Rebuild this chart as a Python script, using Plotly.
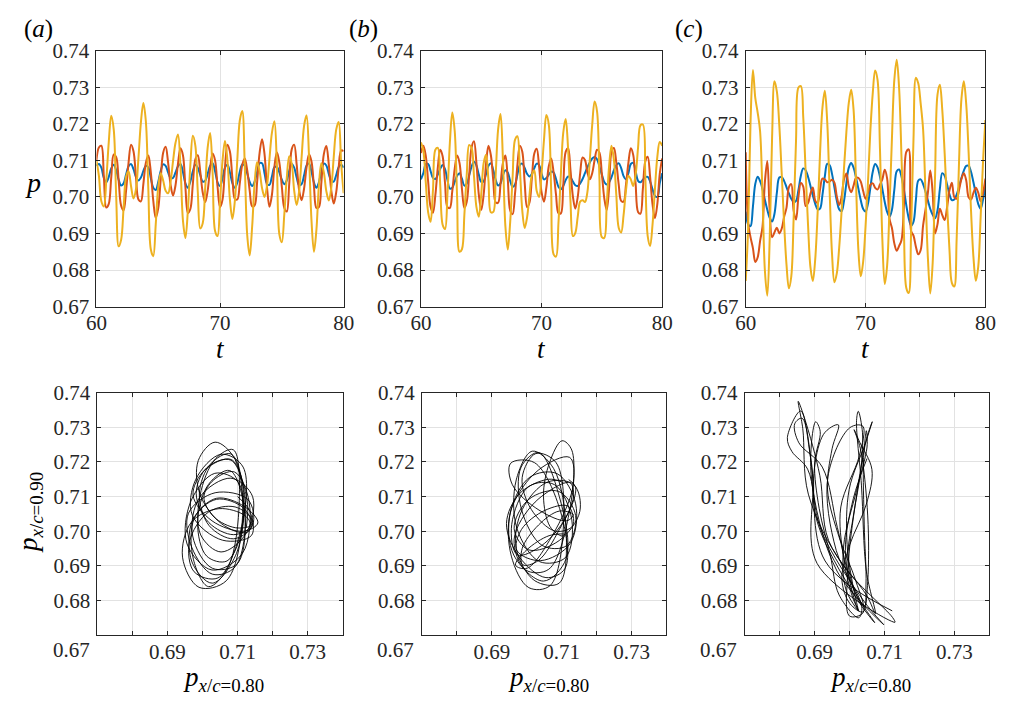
import plotly.graph_objects as go

# Sample times (t = 60 ... 80, step 0.2) shared by every series
T = [60.0, 60.2, 60.4, 60.6, 60.8, 61.0, 61.2, 61.4, 61.6, 61.8,
     62.0, 62.2, 62.4, 62.6, 62.8, 63.0, 63.2, 63.4, 63.6, 63.8,
     64.0, 64.2, 64.4, 64.6, 64.8, 65.0, 65.2, 65.4, 65.6, 65.8,
     66.0, 66.2, 66.4, 66.6, 66.8, 67.0, 67.2, 67.4, 67.6, 67.8,
     68.0, 68.2, 68.4, 68.6, 68.8, 69.0, 69.2, 69.4, 69.6, 69.8,
     70.0, 70.2, 70.4, 70.6, 70.8, 71.0, 71.2, 71.4, 71.6, 71.8,
     72.0, 72.2, 72.4, 72.6, 72.8, 73.0, 73.2, 73.4, 73.6, 73.8,
     74.0, 74.2, 74.4, 74.6, 74.8, 75.0, 75.2, 75.4, 75.6, 75.8,
     76.0, 76.2, 76.4, 76.6, 76.8, 77.0, 77.2, 77.4, 77.6, 77.8,
     78.0, 78.2, 78.4, 78.6, 78.8, 79.0, 79.2, 79.4, 79.6, 79.8,
     80.0]

# ---- case (a) ----
A_BLUE = [.7085, .7090, .7080, .7052, .7040, .7055, .7078, .7088, .7073, .7047,
          .7031, .7037, .7061, .7084, .7090, .7076, .7055, .7045, .7053, .7071,
          .7085, .7080, .7052, .7025, .7019, .7041, .7071, .7089, .7085, .7067,
          .7052, .7052, .7067, .7084, .7090, .7068, .7037, .7025, .7042, .7070,
          .7088, .7080, .7060, .7042, .7044, .7063, .7085, .7092, .7070, .7040,
          .7030, .7051, .7080, .7088, .7067, .7038, .7025, .7039, .7069, .7089,
          .7085, .7064, .7041, .7030, .7042, .7068, .7092, .7092, .7065, .7036,
          .7033, .7056, .7081, .7083, .7067, .7047, .7035, .7045, .7072, .7090,
          .7080, .7053, .7032, .7035, .7059, .7086, .7091, .7069, .7039, .7025,
          .7040, .7071, .7091, .7086, .7063, .7044, .7042, .7060, .7082, .7088,
          .7080]
A_ORANGE = [.7100, .7135, .7140, .7057, .6971, .6981, .7053, .7116, .7109, .7044,
            .6976, .6963, .7017, .7093, .7143, .7125, .7055, .6993, .6988, .7036,
            .7093, .7113, .7068, .6990, .6943, .6969, .7047, .7121, .7137, .7094,
            .7033, .7004, .7032, .7091, .7133, .7114, .7027, .6956, .6967, .7035,
            .7102, .7114, .7070, .7012, .6986, .7017, .7078, .7119, .7100, .7028,
            .6972, .6992, .7081, .7143, .7124, .7053, .6995, .6993, .7037, .7088,
            .7105, .7073, .7017, .6974, .6977, .7040, .7120, .7158, .7117, .7027,
            .6973, .7006, .7082, .7122, .7094, .7028, .6970, .6960, .7036, .7130,
            .7143, .7089, .7019, .6991, .7023, .7081, .7117, .7097, .7028, .6970,
            .6972, .7040, .7117, .7139, .7089, .7018, .6982, .7013, .7081, .7127,
            .7125]
A_YELLOW = [.7100, .7058, .6988, .6974, .7046, .7150, .7222, .7185, .7002, .6865,
            .6883, .6970, .7055, .7070, .7030, .6996, .7021, .7106, .7204, .7257,
            .7207, .7021, .6857, .6838, .6925, .7027, .7065, .7045, .7017, .7010,
            .7041, .7098, .7148, .7171, .7085, .6936, .6888, .6963, .7087, .7167,
            .7141, .7015, .6914, .6928, .7024, .7135, .7175, .7066, .6907, .6893,
            .6986, .7098, .7153, .7100, .6993, .6940, .6989, .7103, .7209, .7235,
            .7089, .6896, .6840, .6919, .7038, .7095, .7071, .7024, .7000, .7030,
            .7104, .7176, .7207, .7089, .6898, .6876, .6952, .7052, .7111, .7091,
            .7017, .6978, .7016, .7108, .7194, .7223, .7112, .6936, .6850, .6911,
            .7032, .7092, .7067, .7016, .6990, .7025, .7109, .7184, .7205, .7092,
            .7010]

# ---- case (b) ----
B_BLUE = [.7048, .7065, .7090, .7090, .7071, .7052, .7049, .7061, .7077, .7087,
          .7076, .7046, .7023, .7025, .7041, .7058, .7065, .7050, .7031, .7036,
          .7059, .7083, .7096, .7086, .7061, .7041, .7043, .7063, .7085, .7092,
          .7073, .7046, .7031, .7037, .7059, .7073, .7067, .7044, .7027, .7034,
          .7061, .7087, .7091, .7079, .7063, .7056, .7063, .7079, .7091, .7087,
          .7064, .7048, .7052, .7061, .7069, .7067, .7049, .7028, .7021, .7030,
          .7046, .7056, .7053, .7042, .7032, .7030, .7037, .7049, .7065, .7081,
          .7094, .7105, .7109, .7103, .7083, .7061, .7041, .7034, .7040, .7054,
          .7073, .7087, .7092, .7079, .7057, .7048, .7065, .7090, .7093, .7070,
          .7044, .7040, .7047, .7054, .7055, .7042, .7021, .7003, .7000, .7038,
          .7065]
B_ORANGE = [.7120, .7140, .7113, .7042, .6973, .6957, .7006, .7080, .7129, .7111,
            .7037, .6972, .6970, .7016, .7077, .7113, .7093, .7023, .6970, .6987,
            .7060, .7135, .7152, .7093, .7006, .6964, .7006, .7091, .7140, .7114,
            .7044, .6985, .6984, .7035, .7093, .7113, .7048, .6963, .6953, .7009,
            .7087, .7140, .7124, .7040, .6972, .6985, .7052, .7119, .7132, .7082,
            .7013, .6987, .7026, .7084, .7105, .7067, .7006, .6956, .6955, .7033,
            .7123, .7133, .7073, .7001, .6968, .7000, .7064, .7108, .7101, .7067,
            .7048, .7065, .7101, .7129, .7121, .7063, .6997, .6964, .7024, .7123,
            .7134, .7093, .7033, .6989, .6987, .7034, .7093, .7133, .7115, .7035,
            .6959, .6954, .7022, .7097, .7110, .7055, .6980, .6942, .6981, .7063,
            .7105]
B_YELLOW = [.7149, .7127, .7041, .6958, .6932, .7019, .7129, .7134, .7033, .6924,
            .6912, .7008, .7148, .7231, .7181, .7000, .6850, .6857, .6950, .7062,
            .7142, .7134, .7057, .6973, .6946, .7007, .7092, .7115, .7045, .6958,
            .6959, .7063, .7185, .7227, .7101, .6921, .6856, .6931, .7053, .7156,
            .7166, .7079, .6964, .6915, .6944, .7005, .7060, .7072, .7016, .7000,
            .7063, .7155, .7224, .7198, .7015, .6843, .6837, .6928, .7061, .7176,
            .7213, .7132, .6987, .6893, .6902, .6946, .6987, .6991, .6986, .7013,
            .7101, .7197, .7261, .7234, .7050, .6890, .6888, .6977, .7084, .7140,
            .7101, .7004, .6915, .6903, .6950, .7018, .7058, .7048, .7030, .7061,
            .7134, .7196, .7198, .7056, .6893, .6866, .6924, .7022, .7110, .7150,
            .7140]

# ---- case (c) ----
C_BLUE = [.6960, .6925, .6920, .6973, .7036, .7055, .7043, .7022, .6992, .6965,
          .6943, .6933, .6954, .7012, .7053, .7054, .7044, .7027, .7010, .6995,
          .6986, .6989, .7019, .7058, .7078, .7073, .7055, .7030, .7004, .6981,
          .6966, .6968, .7005, .7056, .7090, .7087, .7063, .7026, .6990, .6966,
          .6961, .6989, .7038, .7080, .7093, .7080, .7053, .7023, .6991, .6967,
          .6960, .6981, .7025, .7069, .7090, .7081, .7055, .7022, .6986, .6959,
          .6946, .6965, .7020, .7070, .7075, .7055, .7020, .6977, .6942, .6921,
          .6932, .6992, .7045, .7048, .7035, .7015, .6991, .6967, .6951, .6942,
          .6963, .7022, .7065, .7058, .7034, .7007, .6991, .6993, .7006, .7028,
          .7052, .7072, .7085, .7085, .7069, .7040, .7009, .6981, .6968, .6992,
          .7030]
C_ORANGE = [.7122, .6930, .6890, .6860, .6822, .6835, .6880, .6918, .7041, .7098,
            .6964, .6890, .6903, .6916, .6900, .6913, .6945, .6970, .7026, .7035,
            .6962, .6938, .7001, .7038, .7028, .6975, .6983, .7009, .7026, .6990,
            .6983, .7020, .7050, .7048, .7040, .7042, .7047, .7039, .7001, .6978,
            .7001, .7048, .7064, .7029, .7013, .7031, .7052, .7052, .7042, .7016,
            .6995, .7010, .7033, .7037, .7025, .7020, .7034, .7048, .7074, .7050,
            .6940, .6915, .6873, .6853, .6866, .6882, .6979, .7123, .7130, .6907,
            .6894, .6864, .6843, .6855, .6922, .6965, .7011, .7072, .7011, .6900,
            .6925, .6968, .6950, .6937, .6971, .7018, .7039, .7000, .6995, .7019,
            .7049, .7065, .7045, .6999, .6993, .7011, .7025, .7012, .6988, .7011,
            .7050]
C_YELLOW = [.6770, .6914, .7203, .7347, .7270, .7230, .7179, .7004, .6798, .6730,
            .6885, .7163, .7316, .7288, .7197, .7066, .6930, .6816, .6750, .6782,
            .6944, .7157, .7299, .7303, .7218, .7070, .6923, .6808, .6770, .6830,
            .6957, .7118, .7243, .7290, .7206, .7018, .6845, .6767, .6791, .6862,
            .6962, .7078, .7178, .7257, .7293, .7238, .7044, .6855, .6783, .6823,
            .6920, .7039, .7181, .7284, .7346, .7320, .7133, .6885, .6762, .6813,
            .6973, .7160, .7320, .7375, .7297, .7107, .6905, .6751, .6737, .6907,
            .7159, .7326, .7310, .7255, .7185, .7011, .6834, .6736, .6820, .7059,
            .7279, .7307, .7238, .7119, .6980, .6856, .6765, .6755, .6885, .7096,
            .7268, .7316, .7253, .7121, .6962, .6836, .6771, .6809, .6944, .7095,
            .7210]

CASES = [
    ("a", A_BLUE, A_ORANGE, A_YELLOW),
    ("b", B_BLUE, B_ORANGE, B_YELLOW),
    ("c", C_BLUE, C_ORANGE, C_YELLOW),
]

P_TICKS = [0.67, 0.68, 0.69, 0.70, 0.71, 0.72, 0.73, 0.74]
T_TICKS = [60, 70, 80]
PX_LABELS = ["", "", "0.69", "", "0.71", "", "0.73", ""]
PY_LABELS = ["", "0.68", "0.69", "0.70", "0.71", "0.72", "0.73", "0.74"]

BLUE, ORANGE, YELLOW = "#0072BD", "#D95319", "#EDB120"
INK = "#262626"
GRID = "#e2e2e2"
FONT = "Liberation Serif"

W, H = 1015, 707

# panel frames in pixels: (left, right) columns, (top, bottom) rows
TOP_COLS = [(87.3, 340.0), (419.0, 665.6), (751.0, 996.0)]
BOT_COLS = [(88.3, 339.0), (420.0, 670.0), (750.0, 1000.0)]
TOP_ROW = (40.0, 305.0)
BOT_ROW = (394.0, 645.0)


def xdom(c):
    return [c[0] / W, c[1] / W]


def ydom(r):
    return [1 - r[1] / H, 1 - r[0] / H]


fig = go.Figure()

axis_common = dict(
    showline=True, linecolor=INK, linewidth=1, mirror="allticks",
    ticks="inside", ticklen=4, tickwidth=1, tickcolor=INK,
    showgrid=True, gridcolor=GRID, gridwidth=1, zeroline=False,
    tickfont=dict(family=FONT, size=21, color=INK),
)

layout = {}
for i, (name, blue, orange, yellow) in enumerate(CASES):
    top = i + 1
    bot = i + 4
    xt, yt = ("x" if top == 1 else f"x{top}"), ("y" if top == 1 else f"y{top}")
    xb, yb = f"x{bot}", f"y{bot}"

    for vals, col in ((blue, BLUE), (orange, ORANGE), (yellow, YELLOW)):
        fig.add_trace(go.Scatter(
            x=T, y=vals, xaxis=xt, yaxis=yt, mode="lines",
            line=dict(color=col, width=2, shape="spline"),
            showlegend=False, hoverinfo="skip"))

    fig.add_trace(go.Scatter(
        x=orange, y=yellow, xaxis=xb, yaxis=yb, mode="lines",
        line=dict(color="black", width=0.9, shape="spline"),
        showlegend=False, hoverinfo="skip"))

    kx = "xaxis" if top == 1 else f"xaxis{top}"
    ky = "yaxis" if top == 1 else f"yaxis{top}"
    layout[kx] = dict(axis_common, domain=xdom(TOP_COLS[i]), anchor=yt,
                      range=[60, 80], tickvals=T_TICKS, ticklabelstandoff=-3)
    layout[ky] = dict(axis_common, domain=ydom(TOP_ROW), anchor=xt,
                      range=[0.67, 0.74], tickvals=P_TICKS, tickformat=".2f",
                      ticklabelstandoff=2)
    layout[f"xaxis{bot}"] = dict(axis_common, domain=xdom(BOT_COLS[i]), anchor=yb,
                                 range=[0.67, 0.74], tickvals=P_TICKS,
                                 ticktext=PX_LABELS, ticklabelstandoff=-2)
    layout[f"yaxis{bot}"] = dict(axis_common, domain=ydom(BOT_ROW), anchor=xb,
                                 range=[0.67, 0.74], tickvals=P_TICKS,
                                 ticktext=PY_LABELS, ticklabelstandoff=2)

fig.update_layout(**layout)

ann = []


def add_text(text, x, y, size, xanchor="center", yanchor="middle", angle=0):
    ann.append(dict(text=text, x=x / W, y=1 - y / H, xref="paper", yref="paper",
                    xanchor=xanchor, yanchor=yanchor, showarrow=False,
                    textangle=angle, font=dict(family=FONT, size=size, color="black")))


# panel tags
for (name, *_), px in zip(CASES, (11, 343, 677)):
    add_text(f"(<i>{name}</i>)", px, 18, 25, xanchor="left")

# top row axis titles
add_text("<i>p</i>", 22, 176, 28)
for c in TOP_COLS:
    add_text("<i>t</i>", (c[0] + c[1]) / 2, 349, 27)

# bottom row axis titles
for c in BOT_COLS:
    add_text("<i>p</i><sub><i>x</i>/<i>c</i>=0.80</sub>", (c[0] + c[1]) / 2 + 4, 690, 27)
add_text("<i>p</i><sub><i>x</i>/<i>c</i>=0.90</sub>", 20, 518, 27, angle=-90)

# lowest p label of the bottom row sits below the frame corner
for c in BOT_COLS:
    ann.append(dict(text="0.67", x=(c[0] - 6) / W, y=1 - 660 / H, xref="paper",
                    yref="paper", xanchor="right", yanchor="middle", showarrow=False,
                    font=dict(family=FONT, size=21, color=INK)))

fig.update_layout(
    width=W, height=H, margin=dict(l=0, r=0, t=0, b=0),
    paper_bgcolor="white", plot_bgcolor="white",
    font=dict(family=FONT, color=INK),
    annotations=ann, showlegend=False,
)

fig.write_html("out.html")
